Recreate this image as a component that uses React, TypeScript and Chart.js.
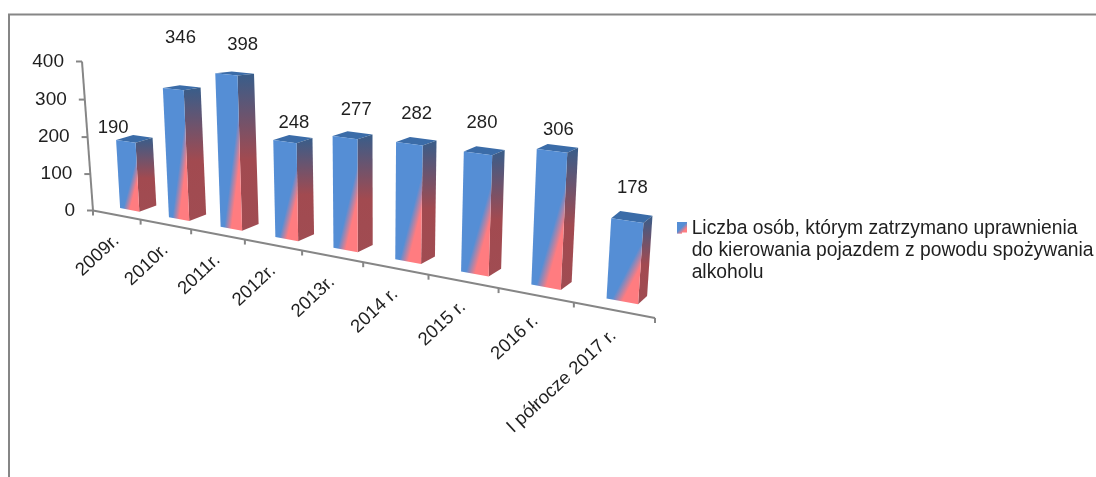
import React, { useEffect, useRef } from "react";
import { Chart, registerables, BarElement, LinearScale, CategoryScale } from "chart.js";

const categories = ["2009r.", "2010r.", "2011r.", "2012r.", "2013r.", "2014 r.", "2015 r.", "2016 r.", "I półrocze 2017 r."];
const seriesValues = [190, 346, 398, 248, 277, 282, 280, 306, 178];
const seriesLabelLines = [
  "Liczba osób, którym zatrzymano uprawnienia",
  "do kierowania pojazdem z powodu spożywania",
  "alkoholu",
];

const FONT = "'Liberation Sans', Arial, sans-serif";
const TEXT = "#1f1f1f";
const AXIS = "#868686";
const BLUE = "#558ED5";
const PINK = "#FF7C80";

let activeChart: any = null;

// --- perspective of the original 3D picture -------------------------------
function makeHomography(q0: number[], q1: number[], q2: number[], q3: number[]) {
  const dx1 = q1[0] - q2[0], dx2 = q3[0] - q2[0], sx = q0[0] - q1[0] + q2[0] - q3[0];
  const dy1 = q1[1] - q2[1], dy2 = q3[1] - q2[1], sy = q0[1] - q1[1] + q2[1] - q3[1];
  const det = dx1 * dy2 - dx2 * dy1;
  const g = (sx * dy2 - dx2 * sy) / det;
  const h = (dx1 * sy - sx * dy1) / det;
  const a = q1[0] - q0[0] + g * q1[0], b = q3[0] - q0[0] + h * q3[0], c = q0[0];
  const d = q1[1] - q0[1] + g * q1[1], e = q3[1] - q0[1] + h * q3[1], f = q0[1];
  return (u: number, v: number) => {
    const w = g * u + h * v + 1;
    return [(a * u + b * v + c) / w, (d * u + e * v + f) / w];
  };
}
// front plane of the bars: s runs from the first to the last category centre, v is value / max
const frontPlane = makeHomography([129.65, 209.85], [622.2, 301.3], [633.8, 114.9], [121.35, 62.65]);
const axisOrigin = [93, 210.5];
const axisEnd = [655, 318];
const axisTop = [82, 61.5];

function xAxisPoint(u: number, n: number) {
  const t = u / n;
  const f = t / (t + 1.35 * (1 - t));
  return [axisOrigin[0] + (axisEnd[0] - axisOrigin[0]) * f, axisOrigin[1] + (axisEnd[1] - axisOrigin[1]) * f];
}
function yAxisPoint(p: number) {
  const f = p / (p + 1.03 * (1 - p));
  return [axisOrigin[0] + (axisTop[0] - axisOrigin[0]) * f, axisOrigin[1] + (axisTop[1] - axisOrigin[1]) * f];
}

class TiltCategoryScale extends CategoryScale {
  static id = "tiltCategory";
  static defaults = CategoryScale.defaults;
  _computeLabelArea() { return undefined; }
  _computeLabelItems(area: any) {
    const n = (this as any).ticks.length;
    return (super._computeLabelItems as any).call(this, area).map((item: any, i: number) => {
      const p = xAxisPoint(i + 0.5, n);
      item.textOffset = 0;
      item.options = { ...item.options, rotation: (-43 * Math.PI) / 180, textAlign: "right", textBaseline: "middle", translation: [p[0], p[1] + 23] };
      return item;
    });
  }
  _computeGridLineItems(area: any) {
    const n = (this as any).ticks.length;
    return (super._computeGridLineItems as any).call(this, area).map((item: any, i: number) => {
      const p = xAxisPoint(i, n);
      return { ...item, tx1: p[0], ty1: p[1], tx2: p[0], ty2: p[1] + 5, x1: p[0], x2: p[0], y1: p[1], y2: p[1] };
    });
  }
  drawBorder() {
    const ctx = (this as any).ctx;
    ctx.save();
    ctx.strokeStyle = AXIS;
    ctx.lineWidth = 2;
    ctx.beginPath();
    ctx.moveTo(axisOrigin[0], axisOrigin[1]);
    ctx.lineTo(axisEnd[0], axisEnd[1]);
    ctx.stroke();
    ctx.restore();
  }
}

class TiltLinearScale extends LinearScale {
  static id = "tiltLinear";
  static defaults = LinearScale.defaults;
  _computeLabelArea() { return undefined; }
  _computeLabelItems(area: any) {
    const self = this as any;
    return (super._computeLabelItems as any).call(this, area).map((item: any, i: number) => {
      const p = yAxisPoint(self.ticks[i].value / self.max);
      item.textOffset = 0;
      item.options = { ...item.options, textAlign: "right", textBaseline: "middle", translation: [p[0] - 18, p[1]] };
      return item;
    });
  }
  _computeGridLineItems(area: any) {
    const self = this as any;
    return (super._computeGridLineItems as any).call(this, area).map((item: any, i: number) => {
      const p = yAxisPoint(self.ticks[i].value / self.max);
      return { ...item, tx1: p[0] - 6, ty1: p[1], tx2: p[0], ty2: p[1], x1: p[0], x2: p[0], y1: p[1], y2: p[1] };
    });
  }
  drawBorder() {
    const ctx = (this as any).ctx;
    ctx.save();
    ctx.strokeStyle = AXIS;
    ctx.lineWidth = 2;
    ctx.beginPath();
    ctx.moveTo(axisOrigin[0], axisOrigin[1]);
    ctx.lineTo(axisTop[0], axisTop[1]);
    ctx.stroke();
    ctx.restore();
  }
}

function quad(ctx: CanvasRenderingContext2D, pts: number[][], fill: any) {
  ctx.fillStyle = fill;
  ctx.beginPath();
  ctx.moveTo(pts[0][0], pts[0][1]);
  for (let i = 1; i < pts.length; i++) ctx.lineTo(pts[i][0], pts[i][1]);
  ctx.closePath();
  ctx.fill();
}

function barGeometry(chart: any, el: any) {
  const xs = chart.scales.x, ys = chart.scales.y;
  const n = xs.ticks.length;
  const toS = (px: number) => (((px - xs.left) / xs.width) * n - 0.5) / (n - 1);
  const v = (el.base - el.y) / (ys.bottom - ys.top);
  const sL = toS(el.x - el.width / 2), sR = toS(el.x + el.width / 2), s = toS(el.x);
  return {
    s, v,
    BL: frontPlane(sL, 0), BR: frontPlane(sR, 0),
    TL: frontPlane(sL, v), TR: frontPlane(sR, v),
  };
}

class Bar3DElement extends BarElement {
  static id = "bar3d";
  static defaults = BarElement.defaults;
  static defaultRoutes = BarElement.defaultRoutes;
  draw(ctx: CanvasRenderingContext2D) {
    const { s, v, BL, BR, TL, TR } = barGeometry(activeChart, this);
    const dx = 17 - 8 * s * s;
    const dyB = -(6.2 + 2 * s);
    const dyT = dyB + 5 * v * v;
    const off = (p: number[], y: number) => [p[0] + dx, p[1] + y];
    ctx.save();
    // top face
    quad(ctx, [TL, off(TL, dyT), off(TR, dyT), TR], "#3B6CA8");
    // side face
    const side = ctx.createLinearGradient(0, TR[1] + dyT, 0, BR[1]);
    side.addColorStop(0, "#385D8A");
    side.addColorStop(0.55, "#A24A50");
    side.addColorStop(1, "#A04C52");
    quad(ctx, [TR, off(TR, dyT), off(BR, dyB), BR], side);
    // front face: diagonal blend between a point on the bottom edge and a point on the right edge
    const P1 = [BL[0] + 0.335 * (BR[0] - BL[0]), BL[1] + 0.335 * (BR[1] - BL[1])];
    const P2 = [TR[0] + 0.38 * (BR[0] - TR[0]), TR[1] + 0.38 * (BR[1] - TR[1])];
    const ex = P2[0] - P1[0], ey = P2[1] - P1[1];
    const len = Math.hypot(ex, ey);
    const nx = -ey / len, ny = ex / len; // points toward the lower right
    const W = Math.abs(0.165 * ((BR[0] - BL[0]) * nx + (BR[1] - BL[1]) * ny));
    const g = ctx.createLinearGradient(P1[0] - nx * W, P1[1] - ny * W, P1[0] + nx * W, P1[1] + ny * W);
    const flip = (BR[0] - P1[0]) * nx + (BR[1] - P1[1]) * ny < 0;
    g.addColorStop(0, flip ? PINK : BLUE);
    g.addColorStop(1, flip ? BLUE : PINK);
    quad(ctx, [TL, TR, BR, BL], g);
    ctx.restore();
  }
}

Chart.register(...registerables, TiltCategoryScale, TiltLinearScale, Bar3DElement);
(Chart.defaults as any).datasets.bar.dataElementType = "bar3d";

const labelNudges = [
  [-12.7, -13.3], [7.2, -51.6], [16.2, -29.8], [9, -19], [11.2, -27.7],
  [7.3, -30], [4, -30.3], [6.4, -21.2], [5, -32.4],
];

function swatchGradient(ctx: CanvasRenderingContext2D) {
  const g = ctx.createLinearGradient(677, 222, 687, 232);
  g.addColorStop(0, BLUE);
  g.addColorStop(0.5, BLUE);
  g.addColorStop(0.8, PINK);
  g.addColorStop(1, PINK);
  return g;
}

const scenePlugin = {
  id: "scene",
  afterLayout(chart: any) {
    const lg = chart.legend;
    const h = lg.bottom - lg.top;
    lg.left = 667; lg.right = 1096;
    lg.top = 209; lg.bottom = 209 + h;
  },
  beforeDraw(chart: any) {
    activeChart = chart;
    const ctx = chart.ctx;
    ctx.save();
    ctx.fillStyle = "#fff";
    ctx.fillRect(0, 0, chart.width, chart.height);
    ctx.strokeStyle = AXIS;
    ctx.lineWidth = 2;
    ctx.beginPath();
    ctx.moveTo(9, chart.height);
    ctx.lineTo(9, 14.5);
    ctx.lineTo(chart.width, 14.5);
    ctx.stroke();
    ctx.restore();
  },
  afterDatasetsDraw(chart: any) {
    const ctx = chart.ctx;
    const meta = chart.getDatasetMeta(0);
    ctx.save();
    ctx.font = `18.5px ${FONT}`;
    ctx.fillStyle = TEXT;
    ctx.textAlign = "center";
    ctx.textBaseline = "middle";
    meta.data.forEach((el: any, i: number) => {
      const { TL, TR } = barGeometry(chart, el);
      const cx = (TL[0] + TR[0]) / 2, cy = (TL[1] + TR[1]) / 2;
      ctx.fillText(String(seriesValues[i]), cx + labelNudges[i][0], cy + labelNudges[i][1]);
    });
    ctx.restore();
  },
  afterDraw(chart: any) {
    // the legend box is wider than the gap the legend leaves before its text
    const ctx = chart.ctx;
    const lg = chart.legend;
    ctx.save();
    ctx.fillStyle = swatchGradient(ctx);
    ctx.fillRect(lg.left + 10, lg.top + 13, 10, 10.5);
    ctx.restore();
  },
};

export default function App() {
  const ref = useRef<HTMLCanvasElement | null>(null);
  useEffect(() => {
    document.body.style.margin = "0";
    document.body.style.background = "#fff";
    const chart = new Chart(ref.current as HTMLCanvasElement, {
      type: "bar",
      data: {
        labels: categories,
        datasets: [{
          label: seriesLabelLines.join(" "),
          data: seriesValues,
          backgroundColor: BLUE,
          borderWidth: 0,
          categoryPercentage: 1,
          barPercentage: 0.4,
          clip: false,
        } as any],
      },
      options: {
        responsive: false,
        animation: false,
        devicePixelRatio: 1,
        layout: { padding: { top: 61, left: 0, right: 0, bottom: 0 } },
        plugins: {
          tooltip: { enabled: false },
          title: { display: false },
          legend: {
            display: true,
            position: "right",
            align: "start",
            labels: {
              boxWidth: 5,
              boxHeight: 10,
              color: TEXT,
              font: { family: FONT, size: 19.3, lineHeight: 22 / 19.3 },
              generateLabels(chart: any) {
                const g = swatchGradient(chart.ctx);
                return [{ text: seriesLabelLines, fillStyle: g, strokeStyle: g, lineWidth: 0, fontColor: TEXT, datasetIndex: 0 }];
              },
            },
          },
        },
        scales: {
          x: {
            type: "tiltCategory",
            offset: true,
            grid: { offset: true, drawOnChartArea: false, tickColor: AXIS, tickWidth: 2, color: AXIS },
            border: { display: true, color: AXIS, width: 2 },
            ticks: { color: TEXT, autoSkip: false, maxRotation: 45, minRotation: 45, font: { family: FONT, size: 18.5 } },
            afterFit(s: any) { s.height = 70; },
          },
          y: {
            type: "tiltLinear",
            min: 0,
            max: 400,
            grid: { drawOnChartArea: false, tickColor: AXIS, tickWidth: 2, color: AXIS },
            border: { display: true, color: AXIS, width: 2 },
            ticks: { color: TEXT, stepSize: 100, font: { family: FONT, size: 19 } },
            afterFit(s: any) { s.width = 70; },
          },
        },
      } as any,
      plugins: [scenePlugin],
    });
    return () => chart.destroy();
  }, []);
  return <canvas ref={ref} width={1096} height={477} style={{ display: "block", width: 1096, height: 477, filter: "blur(0.45px)" }} />;
}
